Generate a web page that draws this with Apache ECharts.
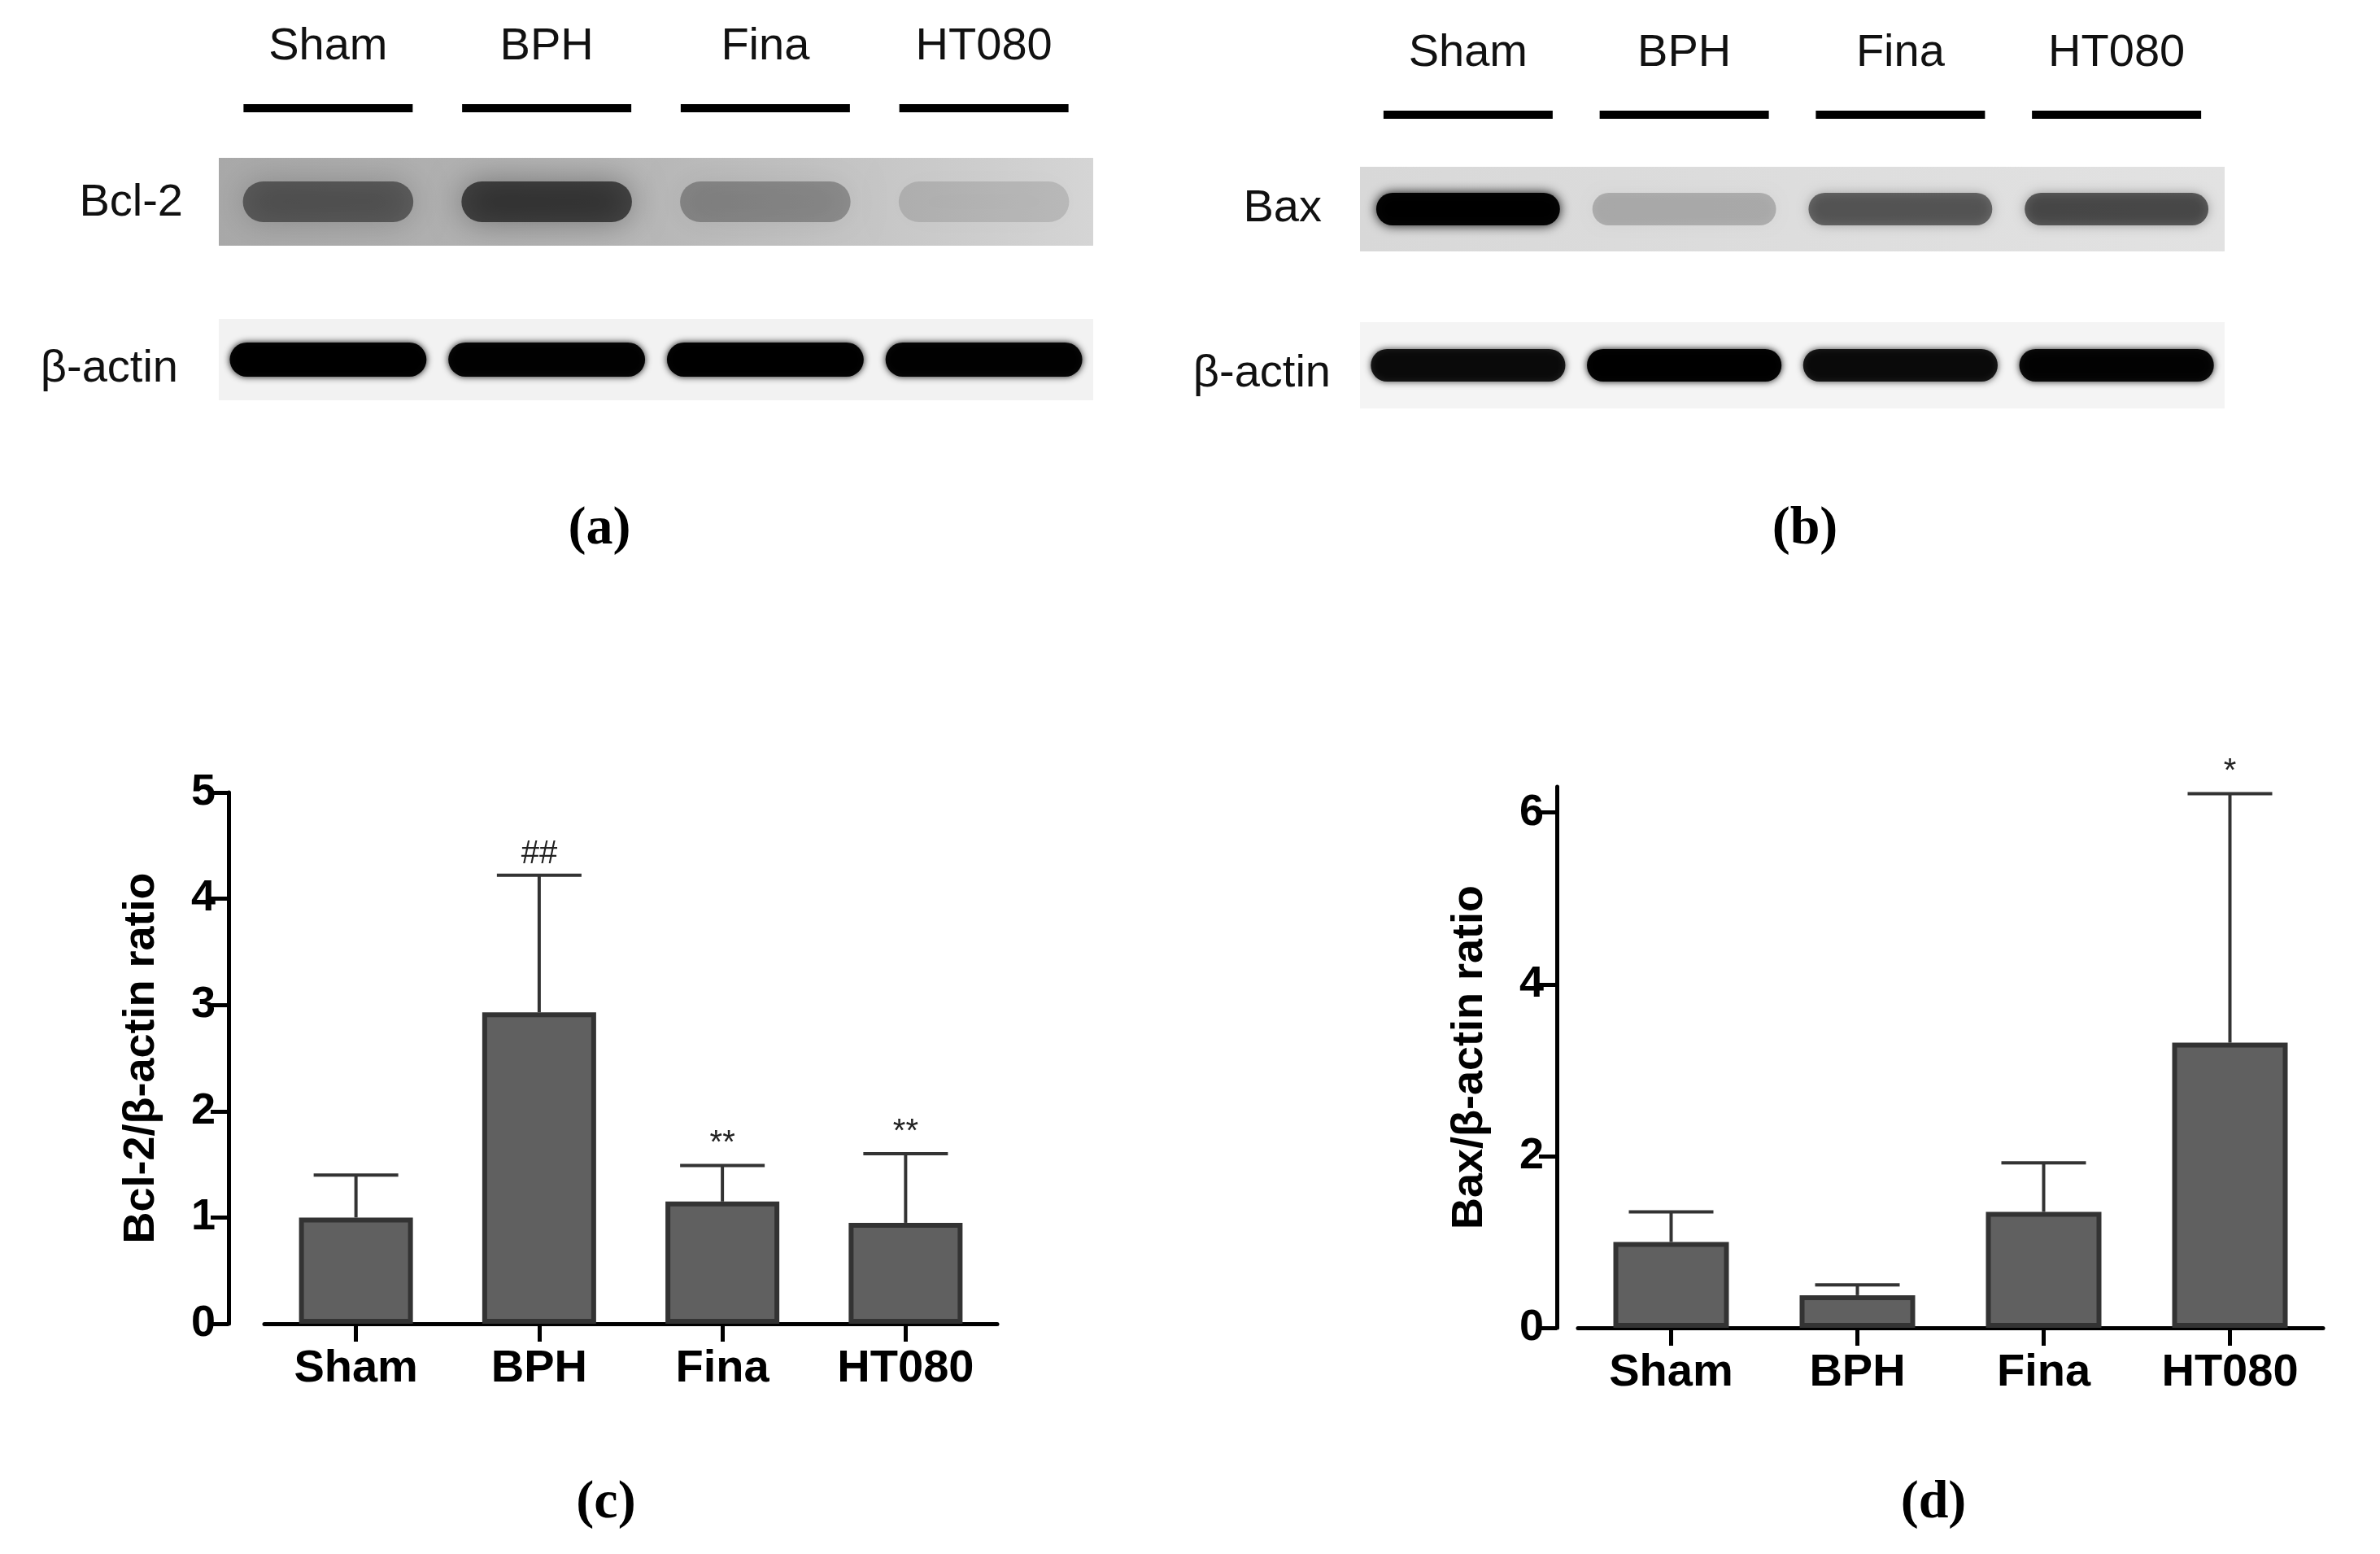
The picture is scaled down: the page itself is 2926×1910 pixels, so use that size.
<!DOCTYPE html>
<html><head><meta charset="utf-8">
<script src="https://cdn.jsdelivr.net/npm/echarts@6/dist/echarts.min.js"></script>
<style>html,body{margin:0;background:#fff}#main{width:2926px;height:1910px}</style>
</head><body><div id="main"></div>
<script>
var chartDom = document.getElementById('main');
var myChart = echarts.init(chartDom);
var option;

// groups
const groups = ['Sham', 'BPH', 'Fina', 'HT080'];
// band darkness read from the blots (0 = none, 1 = black)
const bcl2Bands = [0.45, 0.6, 0.28, 0.12];
const actinBandsA = [0.97, 0.95, 0.97, 0.95];
const baxBands = [0.97, 0.2, 0.5, 0.55];
const actinBandsB = [0.85, 0.97, 0.85, 0.92];
// quantification (mean and mean + SD)
const bcl2Mean = [1.0, 2.93, 1.15, 0.95];
const bcl2Upper = [1.4, 4.22, 1.49, 1.6];
const bcl2Marks = ['', '##', '**', '**'];
const baxMean = [1.0, 0.38, 1.35, 3.32];
const baxUpper = [1.35, 0.5, 1.92, 6.22];
const baxMarks = ['', '', '', '*'];

const sans = 'Liberation Sans';
const bold = "'Liberation Sans Narrow', 'Liberation Sans'";

function bandSeries(idx, data, blur, hgt, widthFrac) {
  return {
    type: 'custom', xAxisIndex: idx, yAxisIndex: idx, silent: true, clip: true,
    data: data.map(function (v, i) { return [i, v]; }),
    renderItem: function (params, api) {
      var c = api.coord([api.value(0), 0]);
      var w = api.size([1, 0])[0] * widthFrac;
      var a = api.value(1);
      return {
        type: 'rect',
        shape: { x: c[0] - w / 2, y: c[1] - hgt / 2, width: w, height: hgt, r: hgt / 2 },
        style: { fill: 'rgba(0,0,0,' + a + ')', shadowBlur: blur, shadowColor: 'rgba(0,0,0,' + a + ')' }
      };
    }
  };
}

function errSeries(idx, mean, upper, marks) {
  return {
    type: 'custom', xAxisIndex: idx, yAxisIndex: idx, silent: true, z: 1,
    data: mean.map(function (m, i) { return [i, m, upper[i]]; }),
    renderItem: function (params, api) {
      var lo = api.coord([api.value(0), api.value(1)]);
      var hi = api.coord([api.value(0), api.value(2)]);
      var cap = 52;
      var lineStyle = { stroke: '#333', lineWidth: 4 };
      return {
        type: 'group',
        children: [
          { type: 'line', shape: { x1: lo[0], y1: lo[1], x2: hi[0], y2: hi[1] }, style: lineStyle },
          { type: 'line', shape: { x1: hi[0] - cap, y1: hi[1], x2: hi[0] + cap, y2: hi[1] }, style: lineStyle },
          { type: 'text', x: hi[0], y: hi[1] - 6,
            style: { text: marks[params.dataIndex], fill: '#222', font: '40px ' + sans, align: 'center', verticalAlign: 'bottom' } }
        ]
      };
    }
  };
}

const blotGrids = [
  { left: 269, width: 1075, top: 194, height: 108 },
  { left: 269, width: 1075, top: 392, height: 100 },
  { left: 1672, width: 1063, top: 205, height: 104 },
  { left: 1672, width: 1063, top: 396, height: 106 }
];
const blotBg = [
  new echarts.graphic.LinearGradient(0, 0, 1, 0, [{ offset: 0, color: '#a9a9a9' }, { offset: 0.5, color: '#b8b8b8' }, { offset: 1, color: '#d6d6d6' }]),
  '#f2f2f2',
  new echarts.graphic.LinearGradient(0, 0, 1, 0, [{ offset: 0, color: '#d8d8d8' }, { offset: 1, color: '#e2e2e2' }]),
  '#f4f4f4'
];

var grid = blotGrids.map(function (g, i) {
  return Object.assign({ show: true, backgroundColor: blotBg[i], borderWidth: 0 }, g);
});
grid.push({ left: 325, width: 901, top: 974, height: 653 });
grid.push({ left: 1940, width: 916, top: 967, height: 665 });

var xAxis = [], yAxis = [];
for (var i = 0; i < 4; i++) {
  xAxis.push({ gridIndex: i, type: 'category', data: groups, show: false });
  yAxis.push({ gridIndex: i, type: 'value', min: -1, max: 1, show: false });
}
var axisCommon = {
  axisLine: { show: true, lineStyle: { color: '#000', width: 5 } },
  axisTick: { show: true, length: 22, lineStyle: { color: '#000', width: 5 } },
  splitLine: { show: false }
};
var xTick = { show: true, alignWithLabel: true, length: 22, lineStyle: { color: '#000', width: 5 } };
var xLabel = { color: '#000', fontFamily: bold, fontWeight: 'bold', fontSize: 56, margin: 28 };
xAxis.push(Object.assign({ gridIndex: 4, type: 'category', data: groups, axisLabel: xLabel }, axisCommon, { axisTick: xTick }));
xAxis.push(Object.assign({ gridIndex: 5, type: 'category', data: groups, axisLabel: xLabel }, axisCommon, { axisTick: xTick }));
yAxis.push(Object.assign({ gridIndex: 4, type: 'value', min: 0, max: 5, interval: 1, offset: 44,
  name: 'Bcl-2/β-actin ratio', nameLocation: 'middle', nameGap: 80,
  nameTextStyle: { color: '#000', fontFamily: bold, fontWeight: 'bold', fontSize: 54 },
  axisLabel: { color: '#000', fontFamily: bold, fontWeight: 'bold', fontSize: 54, margin: 16 } }, axisCommon));
yAxis.push(Object.assign({ gridIndex: 5, type: 'value', min: 0, max: 6.3, interval: 2, offset: 26,
  name: 'Bax/β-actin ratio', nameLocation: 'middle', nameGap: 80,
  nameTextStyle: { color: '#000', fontFamily: bold, fontWeight: 'bold', fontSize: 54 },
  axisLabel: { color: '#000', fontFamily: bold, fontWeight: 'bold', fontSize: 54, margin: 16, showMaxLabel: false } }, axisCommon));

var barStyle = { color: '#606060', borderColor: '#333', borderWidth: 6 };

// lane labels and lines above each blot
var graphic = [];
function laneHeaders(gridDef, yText, yLine, len) {
  var step = gridDef.width / groups.length;
  groups.forEach(function (g, i) {
    var cx = gridDef.left + step * (i + 0.5);
    graphic.push({ type: 'text', x: cx, y: yText, style: { text: g, font: '56px ' + sans, fill: '#111', align: 'center', verticalAlign: 'middle' } });
    graphic.push({ type: 'rect', shape: { x: cx - len / 2, y: yLine - 5, width: len, height: 10 }, style: { fill: '#000' } });
  });
}
laneHeaders(blotGrids[0], 58, 133, 208);
laneHeaders(blotGrids[2], 66, 141, 208);
[['Bcl-2', 225, 250], ['β-actin', 219, 454], ['Bax', 1625, 257], ['β-actin', 1636, 460]].forEach(function (t) {
  graphic.push({ type: 'text', x: t[1], y: t[2], style: { text: t[0], font: '56px ' + sans, fill: '#111', align: 'right', verticalAlign: 'middle' } });
});
[['(a)', 737, 651], ['(b)', 2219, 651], ['(c)', 745, 1848], ['(d)', 2377, 1848]].forEach(function (t) {
  graphic.push({ type: 'text', x: t[1], y: t[2], style: { text: t[0], font: 'bold 66px Liberation Serif', fill: '#000', align: 'center', verticalAlign: 'middle' } });
});

option = {
  animation: false,
  backgroundColor: '#fff',
  grid: grid,
  xAxis: xAxis,
  yAxis: yAxis,
  graphic: graphic,
  series: [
    bandSeries(0, bcl2Bands, 40, 50, 0.78),
    bandSeries(1, actinBandsA, 8, 42, 0.9),
    bandSeries(2, baxBands, 14, 40, 0.85),
    bandSeries(3, actinBandsB, 8, 40, 0.9),
    { type: 'bar', xAxisIndex: 4, yAxisIndex: 4, data: bcl2Mean, barWidth: 140, itemStyle: barStyle, z: 2 },
    errSeries(4, bcl2Mean, bcl2Upper, bcl2Marks),
    { type: 'bar', xAxisIndex: 5, yAxisIndex: 5, data: baxMean, barWidth: 142, itemStyle: barStyle, z: 2 },
    errSeries(5, baxMean, baxUpper, baxMarks)
  ]
};

option && myChart.setOption(option);
</script></body></html>
